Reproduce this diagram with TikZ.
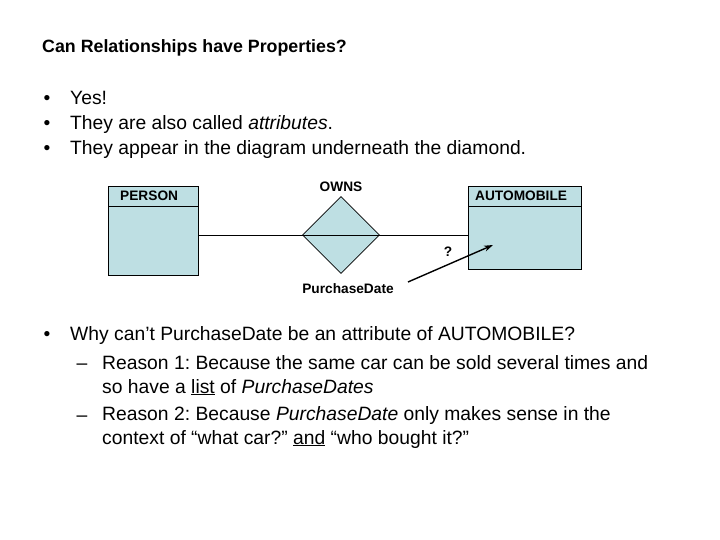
\documentclass[tikz,border=0pt]{standalone}
\usepackage{fontspec}
\setmainfont{Liberation Sans}
\usetikzlibrary{shapes.geometric, arrows.meta, positioning}
\definecolor{erfill}{RGB}{190,223,227}
\frenchspacing

\begin{document}
\begin{tikzpicture}[
          x=1pt, y=-1pt,
          title/.style={anchor=base west, inner sep=0pt, font=\fontsize{17.8}{21}\selectfont\bfseries},
          body/.style={anchor=base west, inner sep=0pt, align=left, font=\fontsize{19.3}{23.5}\selectfont},
          dot/.style={anchor=base, inner sep=0pt, font=\fontsize{19.3}{23.5}\selectfont},
          entity/.style={draw, line width=0.8pt, fill=erfill, anchor=north west, inner sep=0pt},
          relation/.style={draw, line width=0.8pt, fill=erfill, diamond, minimum size=77pt, inner sep=0pt},
          tag/.style={inner sep=0pt, font=\fontsize{13.7}{16}\selectfont\bfseries},
          >=Stealth
        ]
          % 余白
          \useasboundingbox (0,0) rectangle (720,540);

          % タイトル
          \node[title] (head) at (42,53) {Can Relationships have Properties?};

          % 箇条書き（上）
          \node[dot] (d1) at (47,105) {•};
          \node[dot] (d2) at (47,130) {•};
          \node[dot] (d3) at (47,155) {•};
          \node[body] (t1) at (70,105) {Yes!};
          \node[body] (t2) at (70,130) {They are also called \textit{attributes}.};
          \node[body] (t3) at (70,155) {They appear in the diagram underneath the diamond.};

          % ER図
          \node[entity, minimum width=90pt, minimum height=89pt] (person) at (108,186) {};
          \node[entity, minimum width=113pt, minimum height=83pt] (auto) at (468,186) {};
          \node[relation] (owns) at (341,235) {};
          \draw[line width=0.8pt] ([yshift=-20pt]person.north west) -- ([yshift=-20pt]person.north east);
          \draw[line width=0.8pt] ([yshift=-20pt]auto.north west) -- ([yshift=-20pt]auto.north east);
          \node[tag, anchor=base west] (pname) at ([xshift=12pt, yshift=-15pt]person.north west) {PERSON};
          \node[tag, anchor=base west] (aname) at ([xshift=7pt, yshift=-15pt]auto.north west) {AUTOMOBILE};
          \node[tag] (rname) [above=4pt of owns] {OWNS};
          \node[tag] (attr) [below=9pt of owns, xshift=7pt] {PurchaseDate};
          \node[tag] (ask) at (448,252) {?};

          % 接続線
          \draw[line width=0.8pt] (person.east |- owns.center) -- (auto.west |- owns.center);
          \coordinate (tail) at (408,282);
          \coordinate (tip) at (493,245);
          \draw[->, line width=1.4pt, >={Stealth[length=9pt, width=6pt]}] (tail) -- (tip);

          % 箇条書き（下）
          \node[dot] (d4) at (47,340) {•};
          \node[body] (t4) at (70,340) {Why can’t PurchaseDate be an attribute of AUTOMOBILE?};
          \node[dot] (d5) at (82,369) {–};
          \node[body] (t5) at (102,393) {Reason 1: Because the same car can be sold several times and\\
            so have a \underline{list} of \textit{PurchaseDates}};
          \node[dot] (d6) at (82,421) {–};
          \node[body] (t6) at (102,444) {Reason 2: Because \textit{PurchaseDate} only makes sense in the\\
            context of “what car?” \underline{and} “who bought it?”};
        \end{tikzpicture}
\end{document}
